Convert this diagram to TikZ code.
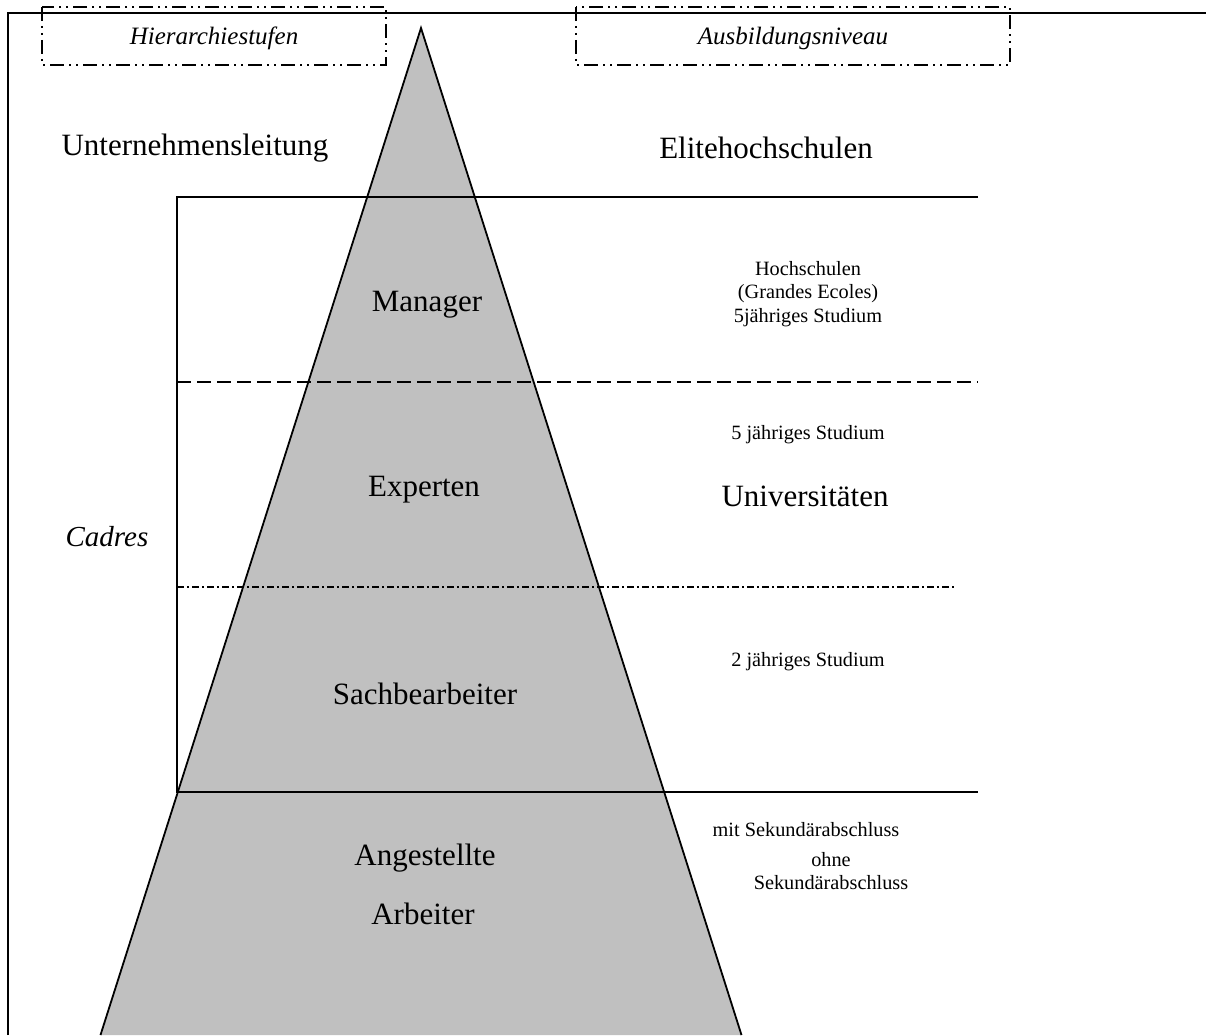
\documentclass[tikz,border=0pt]{standalone}
\usepackage{fontspec}
\setmainfont{Liberation Serif}
\begin{document}
\begin{tikzpicture}[x=1pt,y=-1pt,
  big/.style={font=\fontsize{31}{36}\selectfont, inner sep=0pt},
  small/.style={font=\fontsize{20.3}{23.5}\selectfont, align=center, inner sep=0pt},
  head/.style={font=\fontsize{25}{28}\selectfont\itshape, inner sep=0pt},
  ital/.style={font=\fontsize{29}{32}\selectfont\itshape, inner sep=0pt},
  frameline/.style={line width=1.8pt},
  solidline/.style={line width=1.8pt},
  longdash/.style={line width=1.8pt, dash pattern=on 14pt off 6pt},
  dashdotline/.style={line width=1.5pt, dash pattern=on 7pt off 3pt on 2pt off 3pt},
  headbox/.style={line width=1.8pt, dash pattern=on 14pt off 5pt on 2pt off 5pt on 2pt off 5pt},
  pyrfill/.style={fill={rgb,255:red,192;green,192;blue,192}},
  pyredge/.style={line width=1.8pt}
]
\useasboundingbox (0,0) rectangle (1206,1035);
\fill[white] (0,0) rectangle (1206,1035);

% outer frame
\coordinate (fbl) at (8,1035);
\coordinate (ftl) at (8,13);
\coordinate (ftr) at (1206,13);
\draw[frameline] (fbl) -- (ftl) -- (ftr);

% pyramid
\coordinate (apex) at (421,28);
\coordinate (bl) at (100.5,1035);
\coordinate (br) at (741.5,1035);
\fill[pyrfill] (bl) -- (apex) -- (br) -- cycle;
\draw[pyredge] (bl) -- (apex) -- (br);

% level lines
\coordinate (l1a) at (177,197);  \coordinate (l1b) at (978,197);
\coordinate (l2a) at (177,382);  \coordinate (l2b) at (978,382);
\coordinate (l3a) at (177,587);  \coordinate (l3b) at (955,587);
\coordinate (l4a) at (177,792);  \coordinate (l4b) at (978,792);
\draw[solidline] (l1b) -- (l1a) -- (l4a) -- (l4b);
\draw[longdash] (l2a) -- (l2b);
\draw[dashdotline] (l3a) -- (l3b);

% heading boxes
\node[head] (hier) at (214,38) {Hierarchiestufen};
\node[head] (ausb) at (793,38) {Ausbildungsniveau};
\draw[headbox] (42,7) rectangle (386,65);
\draw[headbox] (576,7) rectangle (1010,65);

% left labels
\node[big] (ul) at (195,148) {Unternehmensleitung};
\node[ital] (cadres) at (107,537) {Cadres};

% pyramid labels
\node[big] (manager) at (427,305) {Manager};
\node[big] (experten) at (424,490) {Experten};
\node[big] (sach) at (425,694) {Sachbearbeiter};
\node[big] (ang) at (425,858) {Angestellte};
\node[big] (arb) at (423,914) {Arbeiter};

% right labels
\node[big] (elite) at (766,148) {Elitehochschulen};
\node[small] (hoch) at (808,294) {Hochschulen\\(Grandes Ecoles)\\5jähriges Studium};
\node[small] (fuenf) at (808,435) {5 jähriges Studium};
\node[big] (uni) at (805,496) {Universitäten};
\node[small] (zwei) at (808,662) {2 jähriges Studium};
\node[small] (mit) at (806,830) {mit Sekundärabschluss};
\node[small] (ohne) at (831,871) {ohne\\Sekundärabschluss};
\end{tikzpicture}
\end{document}
